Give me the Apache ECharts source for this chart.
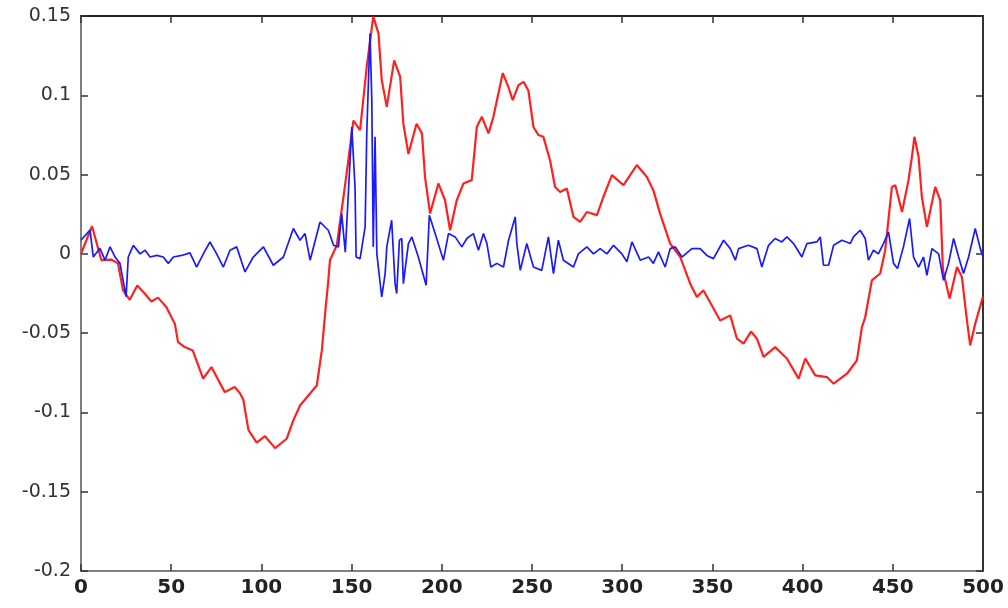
<!DOCTYPE html>
<html>
<head>
<meta charset="utf-8">
<title>signal</title>
<script src="https://cdn.jsdelivr.net/npm/echarts@6/dist/echarts.min.js"></script>
<style>
  html, body { margin: 0; padding: 0; background: #fff; }
  #chart { width: 1008px; height: 608px; }
</style>
</head>
<body>
<div id="chart"></div>
<script>
// red trace (smooth)
const redX = [0, 6.1, 11.3, 16.8, 20.5, 23.3, 27, 31.2, 35.3, 39, 42.7, 47.3, 52, 53.8, 57.5, 62, 67.7, 72.3, 79.7, 85.2, 88.2, 90, 92.8, 97.4, 102, 107.6, 114, 117.7, 121.4, 130.7, 133.5, 135.3, 137.1, 138, 141.8, 145.5, 148.2, 151, 154.7, 158.4, 162, 164.9, 166.7, 169.5, 173.6, 176.9, 178.7, 181.5, 186, 189, 190.7, 193.5, 198.1, 201.8, 204.6, 208.3, 212, 216.6, 219.4, 222.2, 225.9, 228.6, 233.8, 237, 239.3, 242.5, 245.3, 248, 250.8, 253.6, 256.3, 260, 262.8, 265.6, 269.3, 273, 276.7, 280.4, 286, 289.6, 294.3, 300.7, 308.1, 313.7, 317.3, 321, 326.6, 332.2, 337.7, 341.4, 345, 354.3, 359.9, 363.6, 367.3, 371.4, 374.7, 378.4, 384.8, 391.3, 397.8, 401.5, 407, 413.5, 417.2, 424.6, 430.1, 432.9, 434.7, 438.4, 443, 445.8, 449.5, 451.4, 455.1, 458.7, 460.6, 462, 464.3, 466.1, 468.9, 473.5, 476.3, 477.8, 481.5, 485.6, 488.3, 491.1, 492.9, 495.7, 499.4, 500]
const redY = [0, 0.0174, -0.004, -0.0036, -0.006, -0.023, -0.029, -0.02, -0.025, -0.03, -0.0276, -0.0335, -0.044, -0.0556, -0.0588, -0.061, -0.0787, -0.0714, -0.0872, -0.084, -0.088, -0.092, -0.111, -0.119, -0.115, -0.1225, -0.1166, -0.105, -0.0956, -0.083, -0.0609, -0.0377, -0.0167, -0.004, 0.0054, 0.036, 0.059, 0.084, 0.078, 0.118, 0.1496, 0.139, 0.1096, 0.0927, 0.122, 0.1117, 0.082, 0.063, 0.082, 0.076, 0.0485, 0.0254, 0.0444, 0.0338, 0.0149, 0.0338, 0.0444, 0.0465, 0.08, 0.0864, 0.076, 0.0864, 0.114, 0.105, 0.097, 0.1064, 0.1085, 0.103, 0.08, 0.0749, 0.0738, 0.059, 0.0422, 0.039, 0.0412, 0.0233, 0.0201, 0.0264, 0.0244, 0.036, 0.0496, 0.0433, 0.056, 0.0485, 0.04, 0.0254, 0.0065, -0.002, -0.0188, -0.0272, -0.023, -0.042, -0.0388, -0.0535, -0.0566, -0.049, -0.0535, -0.065, -0.0588, -0.066, -0.0787, -0.066, -0.0766, -0.0777, -0.0819, -0.0756, -0.0672, -0.0461, -0.04, -0.0167, -0.0124, 0.0023, 0.0422, 0.0433, 0.0264, 0.0465, 0.0612, 0.0738, 0.0612, 0.036, 0.017, 0.0422, 0.0338, -0.0104, -0.0282, -0.0083, -0.0146, -0.042, -0.0577, -0.044, -0.0293, -0.027]

// blue trace (noisy)
const blueX = [0, 5, 6.8, 10.5, 13.3, 16.1, 18.9, 21.6, 25, 26.2, 29, 32.7, 35.5, 38.3, 42, 45.6, 48.4, 51.2, 55.8, 60.4, 64.1, 67.8, 71.5, 75.2, 78.9, 82.6, 86.3, 90.9, 95.5, 101.1, 106.6, 112.2, 117.7, 121.4, 124.2, 127, 132.5, 137.1, 140, 142.7, 144.5, 146.5, 150.1, 151.9, 152.5, 154.7, 157.5, 158.4, 160.2, 161.2, 162, 163, 164, 166.7, 168.6, 169.5, 172.2, 174.1, 175, 176.5, 177.8, 178.7, 179.6, 181.5, 183.4, 187, 191.3, 193.1, 196.3, 200.9, 203.7, 207.4, 211.1, 213.9, 217.5, 220.3, 223.1, 225, 227.2, 230.5, 234.2, 237, 240.7, 241.6, 243.5, 247.1, 250.8, 255.4, 259.1, 261.9, 264.6, 267.4, 273, 275.7, 280.4, 284.1, 287.8, 291.5, 295.2, 299.8, 302.6, 305.4, 310, 314.6, 317.3, 320.1, 323.8, 326.6, 329.4, 333.1, 338.6, 343.2, 346.9, 350.6, 356.2, 359.9, 362.7, 364.5, 370, 374.7, 377.4, 381.1, 384.8, 388.5, 391.3, 395, 399.6, 402.4, 407.9, 409.8, 411.6, 414.4, 417.2, 421.8, 426.4, 428.2, 431.9, 434.7, 436.5, 439.3, 442, 444.8, 447.6, 450.4, 452.6, 455.9, 459.3, 461.5, 464.3, 467, 468.9, 471.7, 475.4, 478.1, 480.9, 483.7, 486.5, 489.2, 492, 495.7, 498.5, 500]
const blueY = [0.0086, 0.015, -0.002, 0.0035, -0.004, 0.0044, -0.002, -0.006, -0.027, -0.002, 0.0054, 0, 0.0023, -0.002, -0.001, -0.002, -0.006, -0.002, -0.001, 0.0006, -0.0083, 0, 0.0075, 0, -0.0083, 0.0023, 0.0044, -0.0114, -0.002, 0.0044, -0.0072, -0.002, 0.016, 0.0086, 0.0128, -0.004, 0.0201, 0.0149, 0.0054, 0.0044, 0.0254, 0.001, 0.08, 0.0422, -0.002, -0.003, 0.017, 0.076, 0.139, 0.097, 0.0044, 0.0738, 0, -0.0272, -0.0124, 0.0044, 0.0212, -0.0188, -0.025, 0.0086, 0.0097, -0.0188, -0.0104, 0.0065, 0.0107, -0.002, -0.0198, 0.0244, 0.0128, -0.004, 0.0128, 0.0107, 0.0044, 0.0097, 0.0128, 0.0023, 0.0128, 0.0065, -0.0083, -0.006, -0.0083, 0.0086, 0.0233, 0.0065, -0.0104, 0.0065, -0.0083, -0.0104, 0.0107, -0.0124, 0.0086, -0.004, -0.0083, 0, 0.0044, 0, 0.0033, 0, 0.0054, 0, -0.005, 0.0075, -0.004, -0.002, -0.006, 0.0012, -0.0083, 0.0033, 0.0044, -0.002, 0.0033, 0.0033, -0.001, -0.003, 0.0086, 0.0033, -0.004, 0.0033, 0.0054, 0.0033, -0.0083, 0.0054, 0.0097, 0.0075, 0.0107, 0.0065, -0.002, 0.0065, 0.0075, 0.0107, -0.0072, -0.0072, 0.0054, 0.0086, 0.0065, 0.0107, 0.0149, 0.0097, -0.004, 0.0023, 0, 0.0065, 0.0138, -0.006, -0.0093, 0.0044, 0.0223, -0.002, -0.0083, -0.002, -0.0135, 0.0033, 0, -0.0167, -0.006, 0.0097, -0.002, -0.0124, -0.002, 0.016, 0.0033, -0.002]

const xTicks = [0, 50, 100, 150, 200, 250, 300, 350, 400, 450, 500]
const yTicks = [-0.2, -0.15, -0.1, -0.05, 0, 0.05, 0.1, 0.15]

function pairs(xs, ys) {
  return xs.map((x, i) => [x, ys[i]])
}

const chart = echarts.init(document.getElementById('chart'), null, { renderer: 'canvas' })

const boxLine = { show: true, onZero: false, lineStyle: { color: '#555', width: 1.5 } }
const inTick = { show: true, inside: true, length: 7, lineStyle: { color: '#333', width: 1.5 } }

chart.setOption({
  animation: false,
  backgroundColor: '#fff',
  grid: { left: 81, right: 25, top: 16, bottom: 37, containLabel: false },
  xAxis: [{
    type: 'value',
    min: xTicks[0],
    max: xTicks[xTicks.length - 1],
    interval: 50,
    position: 'bottom',
    axisLine: boxLine,
    axisTick: inTick,
    splitLine: { show: false },
    axisLabel: {
      margin: 7,
      color: '#222',
      fontSize: 20,
      fontWeight: 'bold',
      fontFamily: 'DejaVu Sans',
      showMinLabel: true,
      showMaxLabel: true
    }
  }, {
    type: 'value',
    min: xTicks[0],
    max: xTicks[xTicks.length - 1],
    interval: 50,
    position: 'top',
    axisLine: { show: true, onZero: false, lineStyle: { color: '#222', width: 2 } },
    axisTick: inTick,
    axisLabel: { show: false },
    splitLine: { show: false }
  }],
  yAxis: [{
    type: 'value',
    min: yTicks[0],
    max: yTicks[yTicks.length - 1],
    interval: 0.05,
    position: 'left',
    axisLine: boxLine,
    axisTick: inTick,
    splitLine: { show: false },
    axisLabel: {
      margin: 10,
      color: '#333',
      fontSize: 19,
      fontFamily: 'DejaVu Sans',
      showMinLabel: true,
      showMaxLabel: true,
      formatter: v => String(Math.round(v * 100) / 100)
    }
  }, {
    type: 'value',
    min: yTicks[0],
    max: yTicks[yTicks.length - 1],
    interval: 0.05,
    position: 'right',
    axisLine: { show: true, onZero: false, lineStyle: { color: '#333', width: 2 } },
    axisTick: inTick,
    axisLabel: { show: false },
    splitLine: { show: false }
  }],
  series: [{
    name: 'red',
    type: 'line',
    data: pairs(redX, redY),
    showSymbol: false,
    symbol: 'none',
    lineStyle: { color: '#ff2020', width: 2.2 },
    z: 2
  }, {
    name: 'blue',
    type: 'line',
    data: pairs(blueX, blueY),
    showSymbol: false,
    symbol: 'none',
    lineStyle: { color: '#1a1aff', width: 1.7 },
    z: 3
  }]
})
</script>
</body>
</html>
